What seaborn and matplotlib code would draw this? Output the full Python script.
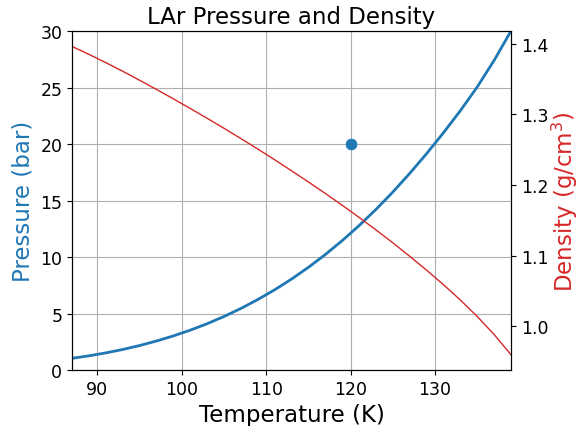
import matplotlib
matplotlib.use("Agg")
import matplotlib.pyplot as plt
import pandas as pd
import seaborn as sns

# Liquid argon along the saturation curve
temperature = [87, 89, 91, 93, 95, 97, 99, 101, 103, 105, 107, 109, 111, 113,
               115, 117, 119, 121, 123, 125, 127, 129, 131, 133, 135, 137, 139]
pressure = [1.04, 1.26, 1.52, 1.82, 2.17, 2.57, 3.02, 3.53, 4.10, 4.74, 5.45,
            6.24, 7.10, 8.05, 9.09, 10.22, 11.45, 12.78, 14.21, 15.75, 17.40,
            19.15, 21.00, 22.95, 25.05, 27.40, 30.00]
density = [1.3960, 1.3848, 1.3731, 1.3609, 1.3482, 1.3352, 1.3219, 1.3083,
           1.2944, 1.2802, 1.2657, 1.2509, 1.2357, 1.2201, 1.2043, 1.1881,
           1.1714, 1.1542, 1.1365, 1.1182, 1.0992, 1.0795, 1.0590, 1.0373,
           1.0140, 0.9885, 0.9600]

point_t = [120]
point_p = [20]

df = pd.DataFrame({"T": temperature, "P": pressure, "rho": density})
pt = pd.DataFrame({"T": point_t, "P": point_p})

fig, ax1 = plt.subplots(figsize=(5.81, 4.27), dpi=100)
fig.subplots_adjust(left=0.124, right=0.8795, top=0.925, bottom=0.131)

sns.lineplot(data=df, x="T", y="P", ax=ax1, color="tab:blue", linewidth=2)
sns.scatterplot(data=pt, x="T", y="P", ax=ax1, color="tab:blue", s=60,
                edgecolor="tab:blue", zorder=5)
ax1.set_xlim(87, 139)
ax1.set_ylim(0, 30)
ax1.grid(True)
ax1.set_xlabel("Temperature (K)", fontsize=16.5)
ax1.set_ylabel("Pressure (bar)", fontsize=16.5, color="tab:blue")
ax1.tick_params(labelsize=12.5)
ax1.set_title("LAr Pressure and Density", fontsize=16.5)

ax2 = ax1.twinx()
sns.lineplot(data=df, x="T", y="rho", ax=ax2, color="tab:red", linewidth=1)
ax2.set_ylabel("Density (g/cm$^3$)", fontsize=16.5, color="tab:red", labelpad=1)
ax2.tick_params(labelsize=12.5)
ax2.set_xlim(87, 139)

fig.savefig("out.png", dpi=100)
